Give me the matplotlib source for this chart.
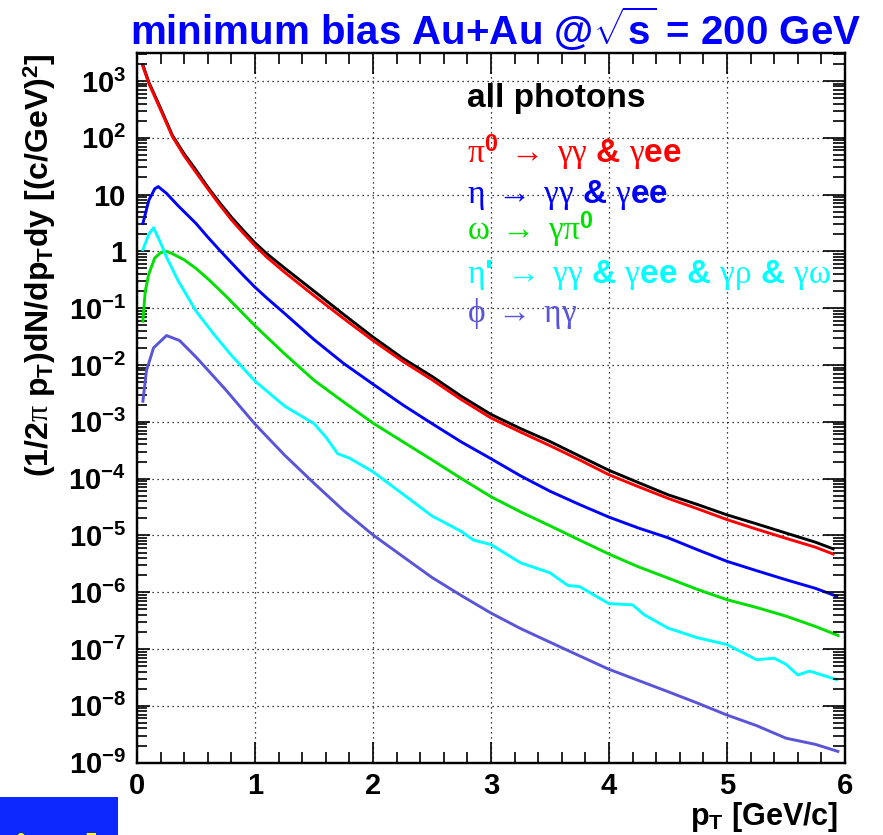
import matplotlib
matplotlib.use('Agg')
import matplotlib.pyplot as plt
import matplotlib.patches as patches
from matplotlib.ticker import FixedLocator, LogLocator, MultipleLocator, NullFormatter

# fonts: bold sans for text, serif (Symbol-like) for greek letters in math
plt.rcParams['font.family'] = ['Liberation Sans', 'DejaVu Sans']
plt.rcParams['mathtext.fontset'] = 'custom'
plt.rcParams['mathtext.rm'] = 'Liberation Serif'
plt.rcParams['mathtext.it'] = 'Liberation Serif:italic'
plt.rcParams['mathtext.bf'] = 'Liberation Sans:bold'
plt.rcParams['mathtext.default'] = 'rm'

# all photons (black) and pi0 (red)
pt_all = [0.05, 0.1, 0.2, 0.3, 0.4, 0.5, 0.6, 0.7, 0.8, 0.9, 1.0, 1.1, 1.25, 1.5, 1.75, 2.0, 2.25,
          2.5, 2.75, 3.0, 3.25, 3.5, 3.75, 4.0, 4.25, 4.5, 4.75, 5.0, 5.25, 5.5, 5.75, 5.9]
y_all = [1.9e3, 9.5e2, 3.3e2, 1.1e2, 52, 27, 13.5, 7.2, 4.0, 2.35, 1.41, 0.91, 0.51, 0.20, 0.078,
         0.031, 0.0132, 6.3e-3, 2.8e-3, 1.35e-3, 7.6e-4, 4.5e-4, 2.5e-4, 1.4e-4, 8.5e-5, 5.2e-5,
         3.5e-5, 2.3e-5, 1.6e-5, 1.1e-5, 7.6e-6, 5.8e-6]
y_pi0 = [1.8e3, 9.1e2, 3.1e2, 1.05e2, 48, 24.5, 12.6, 6.6, 3.6, 2.1, 1.26, 0.79, 0.43, 0.166, 0.066,
         0.027, 0.0117, 5.5e-3, 2.45e-3, 1.17e-3, 6.6e-4, 3.8e-4, 2.14e-4, 1.17e-4, 7.2e-5, 4.5e-5,
         2.95e-5, 1.9e-5, 1.29e-5, 8.9e-6, 6.2e-6, 4.7e-6]

# eta (blue)
pt_eta = [0.05, 0.1, 0.15, 0.18, 0.25, 0.35, 0.5, 0.6, 0.7, 0.8, 0.9, 1.0, 1.1, 1.25, 1.5, 1.75,
          2.0, 2.25, 2.5, 2.75, 3.0, 3.25, 3.5, 3.75, 4.0, 4.25, 4.5, 4.75, 5.0, 5.25, 5.5, 5.75, 5.93]
y_eta = [3.1, 7.9, 12.6, 13.8, 10.5, 6.3, 3.1, 1.78, 1.05, 0.63, 0.38, 0.234, 0.151, 0.081, 0.028,
         0.0107, 4.6e-3, 2.0e-3, 9.3e-4, 4.4e-4, 2.24e-4, 1.12e-4, 6.0e-5, 3.5e-5, 2.1e-5, 1.35e-5,
         9.1e-6, 5.6e-6, 3.5e-6, 2.4e-6, 1.66e-6, 1.17e-6, 8.5e-7]

# omega (green)
pt_omega = [0.05, 0.07, 0.1, 0.15, 0.2, 0.25, 0.3, 0.4, 0.5, 0.6, 0.75, 1.0, 1.25, 1.5, 1.75, 2.0,
            2.25, 2.5, 2.75, 3.0, 3.25, 3.5, 3.75, 4.0, 4.25, 4.5, 4.75, 5.0, 5.25, 5.5, 5.75, 5.94]
y_omega = [0.059, 0.20, 0.40, 0.76, 0.95, 1.0, 0.91, 0.71, 0.50, 0.33, 0.166, 0.049, 0.0158, 5.4e-3,
           2.24e-3, 9.5e-4, 4.5e-4, 2.14e-4, 1.0e-4, 4.8e-5, 2.6e-5, 1.48e-5, 8.3e-6, 4.7e-6,
           2.8e-6, 1.78e-6, 1.12e-6, 7.4e-7, 5.4e-7, 3.8e-7, 2.5e-7, 1.74e-7]

# eta' (cyan)
pt_etap = [0.05, 0.1, 0.14, 0.2, 0.25, 0.35, 0.5, 0.65, 0.8, 1.0, 1.25, 1.5, 1.6, 1.7, 1.8, 2.0,
           2.25, 2.5, 2.75, 2.85, 3.0, 3.25, 3.5, 3.65, 3.75, 4.0, 4.2, 4.3, 4.5, 4.75, 5.0, 5.25,
           5.4, 5.5, 5.6, 5.7, 5.93]
y_etap = [1.07, 2.0, 2.6, 1.41, 0.79, 0.30, 0.089, 0.035, 0.0148, 5.2e-3, 1.9e-3, 9.3e-4, 5.4e-4,
          2.75e-4, 2.3e-4, 1.32e-4, 5.4e-5, 2.2e-5, 1.17e-5, 8.3e-6, 6.9e-6, 3.3e-6, 2.2e-6, 1.32e-6,
          1.26e-6, 6.3e-7, 6.0e-7, 4.0e-7, 2.34e-7, 1.58e-7, 1.2e-7, 6.5e-8, 6.9e-8, 5.4e-8, 3.5e-8,
          4.1e-8, 2.9e-8]

# phi (violet)
pt_phi = [0.05, 0.08, 0.14, 0.25, 0.36, 0.5, 0.75, 1.0, 1.25, 1.5, 1.75, 2.0, 2.25, 2.5, 2.75, 3.0,
          3.25, 3.5, 3.75, 4.0, 4.25, 4.5, 4.75, 5.0, 5.25, 5.5, 5.75, 5.94]
y_phi = [2.3e-3, 7.9e-3, 0.020, 0.033, 0.027, 0.0138, 3.7e-3, 9.1e-4, 2.6e-4, 8.3e-5, 2.75e-5,
         1.02e-5, 4.3e-6, 1.82e-6, 8.7e-7, 4.3e-7, 2.3e-7, 1.32e-7, 7.6e-8, 4.4e-8, 2.8e-8, 1.78e-8,
         1.12e-8, 6.9e-9, 4.5e-9, 2.7e-9, 2.1e-9, 1.58e-9]

x_ticks = [0, 1, 2, 3, 4, 5, 6]
y_ticks = [1e-9, 1e-8, 1e-7, 1e-6, 1e-5, 1e-4, 1e-3, 1e-2, 1e-1, 1, 10, 1e2, 1e3]
y_ticklabels = [r'$\mathbf{10^{-9}}$', r'$\mathbf{10^{-8}}$', r'$\mathbf{10^{-7}}$', r'$\mathbf{10^{-6}}$',
                r'$\mathbf{10^{-5}}$', r'$\mathbf{10^{-4}}$', r'$\mathbf{10^{-3}}$', r'$\mathbf{10^{-2}}$',
                r'$\mathbf{10^{-1}}$', '1', '10', r'$\mathbf{10^{2}}$', r'$\mathbf{10^{3}}$']

legend_labels = ['all photons',
                 r'$\pi^{\mathbf{0}}\ \rightarrow\ \gamma\gamma$ & $\gamma$ee',
                 r'$\eta\ \rightarrow\ \gamma\gamma$ & $\gamma$ee',
                 r'$\omega\ \rightarrow\ \gamma\pi^{\mathbf{0}}$',
                 r"$\eta$' $\rightarrow\ \gamma\gamma$ & $\gamma$ee & $\gamma\rho$ & $\gamma\omega$",
                 r'$\phi\ \rightarrow\ \eta\gamma$']
colors = ['#000000', '#ff0000', '#0000ff', '#00e000', '#00ffff', '#5a55d8']

fig = plt.figure(figsize=(8.83, 8.35), dpi=100)
ax = fig.add_axes([137 / 883, 72.3 / 835, 708 / 883, 709.7 / 835])

series = [(pt_all, y_all), (pt_all, y_pi0), (pt_eta, y_eta), (pt_omega, y_omega),
          (pt_etap, y_etap), (pt_phi, y_phi)]
for (xs, ys), c in zip(series, colors):
    ax.plot(xs, ys, color=c, lw=2.1, solid_joinstyle='round')

ax.set_yscale('log')
ax.set_xlim(0, 6)
ax.set_ylim(1e-9, 3.1e3)

# ROOT style ticks: inside, on all four sides
ax.xaxis.set_major_locator(FixedLocator(x_ticks))
ax.xaxis.set_minor_locator(MultipleLocator(0.2))
ax.set_xticklabels([str(t) for t in x_ticks], fontweight='bold')
ax.yaxis.set_major_locator(FixedLocator(y_ticks))
ax.yaxis.set_minor_locator(LogLocator(base=10, subs=range(2, 10), numticks=30))
ax.yaxis.set_minor_formatter(NullFormatter())
ax.set_yticklabels(y_ticklabels, fontweight='bold')
ax.tick_params(axis='x', which='major', direction='in', length=15, width=1.2, top=True,
               labelsize=21, pad=7)
ax.tick_params(axis='x', which='minor', direction='in', length=8, width=1.2, top=True)
ax.tick_params(axis='y', which='major', direction='in', length=9, width=1.2, right=False,
               labelsize=21, pad=8)
ax.tick_params(axis='y', which='minor', direction='in', length=7, width=1.2, right=False)

# right axis has longer ticks
ax2 = ax.twinx()
ax2.set_yscale('log')
ax2.set_ylim(ax.get_ylim())
ax2.yaxis.set_major_locator(FixedLocator(y_ticks))
ax2.yaxis.set_minor_locator(LogLocator(base=10, subs=range(2, 10), numticks=30))
ax2.tick_params(axis='y', which='major', direction='in', length=16, width=1.2, labelright=False)
ax2.tick_params(axis='y', which='minor', direction='in', length=8.5, width=1.2, labelright=False)

ax.grid(True, which='major', color='black', linestyle=(0, (1, 3)), linewidth=0.9)
for a in (ax, ax2):
    for s in a.spines.values():
        s.set_linewidth(1.6)

ax.set_ylabel(r'(1/2$\pi$ p$_{\mathbf{T}}$)dN/dp$_{\mathbf{T}}$dy [(c/GeV)$^{\mathbf{2}}$]',
              fontsize=23, fontweight='bold', loc='top')
ax.yaxis.set_label_coords(-0.112, 1.0)
ax.set_xlabel(r'p$_{\mathbf{T}}$ [GeV/c]', fontsize=22, fontweight='bold', loc='right')
ax.xaxis.set_label_coords(0.99, -0.052)

fig.text(496 / 883, 1 - 45 / 835, r'minimum bias Au+Au @$\sqrt{\mathbf{s}}$ = 200 GeV',
         color='#0000ff', fontsize=29, fontweight='bold', ha='center', va='baseline')

# text legend
baselines = [107, 163, 203, 240, 283, 322]
for lab, c, yb in zip(legend_labels, colors, baselines):
    fig.text(467 / 883, 1 - yb / 835, lab, color=c, fontsize=24, fontweight='bold', va='baseline')

# blue box cut at the bottom-left corner (its yellow text is cut off in the original too)
fig.add_artist(patches.Rectangle((0, 0), 118 / 883, 38 / 835, transform=fig.transFigure,
                                 facecolor='#0a28ff', edgecolor='none'))
fig.text(14 / 883, -33 / 835, 'itud', color='#ffff00', fontsize=36, fontweight='bold',
         family='Liberation Serif', va='baseline')

fig.savefig('out.png', dpi=100)
